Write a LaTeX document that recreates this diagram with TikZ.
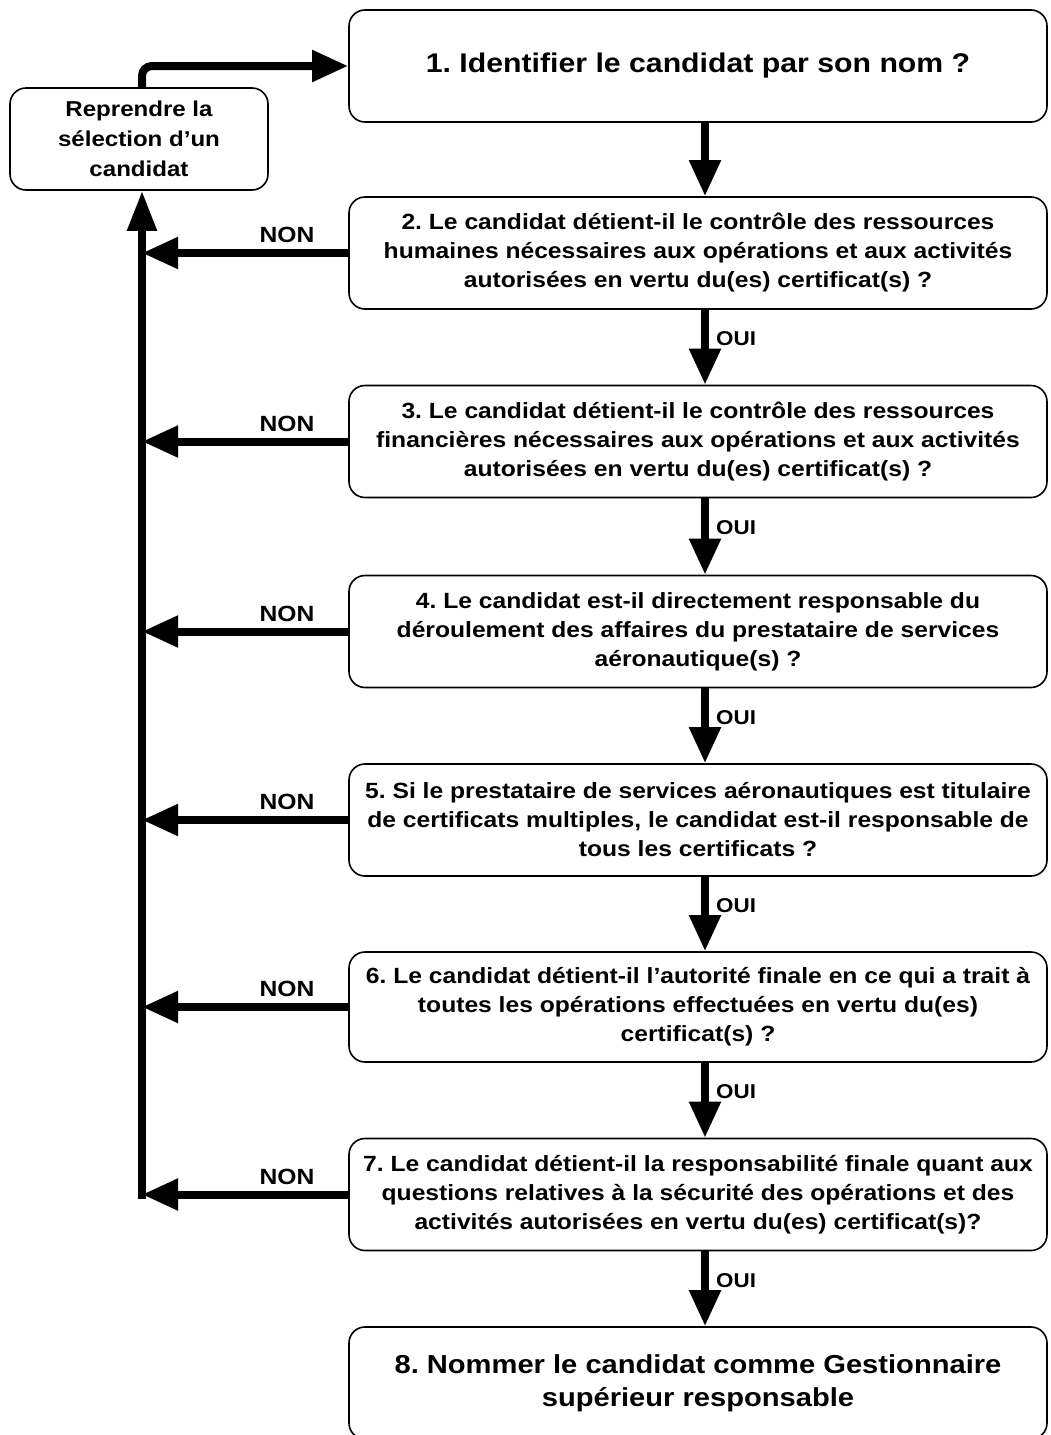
\documentclass[tikz,border=0pt]{standalone}
\usepackage{fontspec}
\setmainfont[FakeStretch=1.12]{Liberation Sans}
\usetikzlibrary{arrows.meta,calc}
\begin{document}
\frenchspacing
\begin{tikzpicture}[x=1pt,y=-1pt,
  box/.style={draw, line width=1.6pt, rounded corners=16pt, minimum width=698pt, minimum height=112pt, align=center, inner sep=0pt, font=\bfseries\fontsize{22}{29}\selectfont},
  flow/.style={line width=8pt, -{Triangle[length=36pt,width=30pt]}},
  lab/.style={font=\bfseries\fontsize{22}{26}\selectfont, inner sep=0pt}]
\useasboundingbox (0,0) rectangle (1051,1435);
\fill[white] (0,0) rectangle (1051,1435);
\coordinate (arr) at (705,0);
\coordinate (spine) at (142,0);
\node[box, font=\bfseries\fontsize{27}{32}\selectfont] (b1) at (698,66) {1. Identifier le candidat par son nom ?};
\node[box] (b2) at (698,253) {2. Le candidat détient-il le contrôle des ressources\\humaines nécessaires aux opérations et aux activités\\autorisées en vertu du(es) certificat(s) ?};
\node[box] (b3) at (698,441.5) {3. Le candidat détient-il le contrôle des ressources\\financières nécessaires aux opérations et aux activités\\autorisées en vertu du(es) certificat(s) ?};
\node[box] (b4) at (698,631.5) {4. Le candidat est-il directement responsable du\\déroulement des affaires du prestataire de services\\aéronautique(s) ?};
\node[box] (b5) at (698,820) {5. Si le prestataire de services aéronautiques est titulaire\\de certificats multiples, le candidat est-il responsable de\\tous les certificats ?};
\node[box, minimum height=110pt] (b6) at (698,1007) {6. Le candidat détient-il l'autorité finale en ce qui a trait à\\toutes les opérations effectuées en vertu du(es)\\certificat(s) ?};
\node[box] (b7) at (698,1194.5) {7. Le candidat détient-il la responsabilité finale quant aux\\questions relatives à la sécurité des opérations et des\\activités autorisées en vertu du(es) certificat(s)?};
\node[box, font=\bfseries\fontsize{26}{33}\selectfont] (b8) at (698,1383) {8. Nommer le candidat comme Gestionnaire\\supérieur responsable};
\node[box, minimum width=258pt, minimum height=102pt, font=\bfseries\fontsize{21.5}{30}\selectfont] (r) at (139,139) {Reprendre la\\sélection d'un\\candidat};
% down arrows
\foreach \a/\b in {b1/b2,b2/b3,b3/b4,b4/b5,b5/b6,b6/b7,b7/b8}{
  \draw[flow] (\a.south -| arr) -- (\b.north -| arr);
}
\foreach \a in {b2,b3,b4,b5,b6,b7}{
  \node[lab, anchor=west, font=\bfseries\fontsize{20}{24}\selectfont] at ([yshift=-29pt]\a.south -| 716,0) {OUI};
  \draw[flow] (\a.west) -- (\a.west -| spine);
  \node[lab] at ([yshift=18pt]\a.west -| 287,0) {NON};
}
\draw[line width=8pt, -{Triangle[length=40pt,width=28pt]}] ([yshift=-4pt]b7.west -| spine) -- (r.south -| spine);
\draw[flow, rounded corners=10pt] (r.north -| spine) |- (b1.west);
\end{tikzpicture}
\end{document}
